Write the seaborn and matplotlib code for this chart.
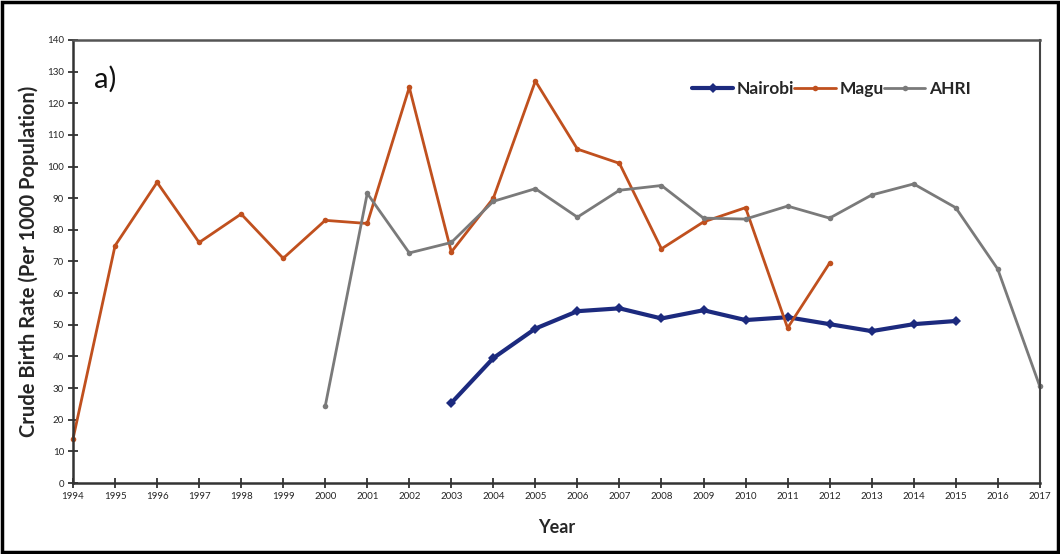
import matplotlib
matplotlib.use("Agg")
import matplotlib.pyplot as plt
import seaborn as sns
import pandas as pd
from matplotlib.patches import Rectangle

# ---- data ----
magu_years = list(range(1994, 2013))
magu_values = [14, 75, 95, 76, 85, 71, 83, 82, 125, 73, 90, 127, 105.5, 101, 74, 82.5, 87, 49, 69.5]

ahri_years = list(range(2000, 2018))
ahri_values = [24.3, 91.5, 72.7, 76, 89, 93, 84, 92.5, 94, 83.7, 83.4, 87.5, 83.7, 91, 94.5, 87, 67.6, 30.6]

nairobi_years = list(range(2003, 2016))
nairobi_values = [25.3, 39.5, 48.8, 54.3, 55.2, 52, 54.6, 51.5, 52.4, 50.2, 48, 50.2, 51.2]

x_ticks = list(range(1994, 2018))
y_ticks = list(range(0, 141, 10))

sns.set_theme(style="white")
plt.rcParams["font.family"] = ["Lato", "DejaVu Sans"]

fig = plt.figure(figsize=(10.6, 5.54), dpi=100)
ax = fig.add_axes([0.0689, 0.128, 0.912, 0.80])

df_n = pd.DataFrame({"Year": nairobi_years, "Rate": nairobi_values})
df_m = pd.DataFrame({"Year": magu_years, "Rate": magu_values})
df_a = pd.DataFrame({"Year": ahri_years, "Rate": ahri_values})

sns.lineplot(data=df_n, x="Year", y="Rate", ax=ax, color="#1c2a7e", linewidth=3,
             marker="D", markersize=5, markeredgewidth=0, label="Nairobi", clip_on=False)
sns.lineplot(data=df_m, x="Year", y="Rate", ax=ax, color="#c0501e", linewidth=2,
             marker="o", markersize=4, markeredgewidth=0, label="Magu", clip_on=False)
sns.lineplot(data=df_a, x="Year", y="Rate", ax=ax, color="#7a7a7a", linewidth=2,
             marker="o", markersize=4, markeredgewidth=0, label="AHRI", clip_on=False)

ax.set_xlim(1994, 2017)
ax.set_ylim(0, 140)
ax.set_xticks(x_ticks)
ax.set_xticklabels([str(t) for t in x_ticks], fontsize=7)
ax.set_yticks(y_ticks)
ax.set_yticklabels([str(t) for t in y_ticks], fontsize=7)
ax.tick_params(axis="both", direction="inout", length=7, width=1.3, color="#333333",
               left=True, bottom=True, pad=3)

for side in ["left", "bottom"]:
    ax.spines[side].set_color("#333333")
    ax.spines[side].set_linewidth(1.8)
ax.spines["top"].set_color("#555555")
ax.spines["top"].set_linewidth(1.8)
ax.spines["right"].set_color("#444444")
ax.spines["right"].set_linewidth(1.5)

ax.set_xlabel("Year", fontsize=13, fontweight="bold", labelpad=13)
ax.set_ylabel("Crude Birth Rate (Per 1000 Population)", fontsize=14.5, fontweight="bold", labelpad=6)

ax.text(0.022, 0.91, "a)", transform=ax.transAxes, fontsize=21, va="center", ha="left",
        color="#111111")

leg = ax.legend(loc="center left", bbox_to_anchor=(0.64, 0.889), ncol=3, frameon=False,
                handlelength=2.4, handletextpad=0.2, columnspacing=0.0, borderaxespad=0,
                borderpad=0, prop={"size": 12.5, "weight": "bold"})

fig.patches.append(Rectangle((0.002, 0.004), 0.996, 0.992, transform=fig.transFigure,
                             fill=False, edgecolor="black", linewidth=2.5))

fig.savefig("out.png", dpi=100)
